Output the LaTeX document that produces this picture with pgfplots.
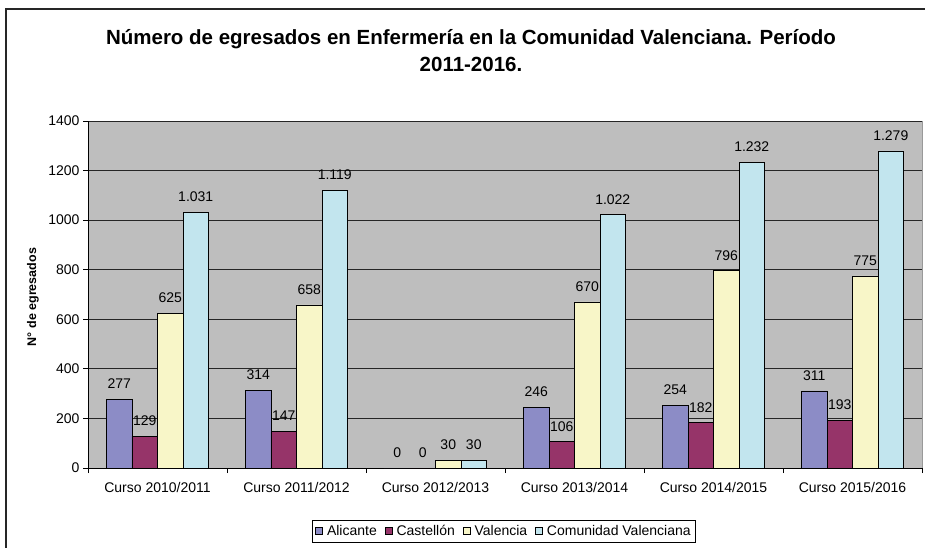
\documentclass[border=0pt]{standalone}
\usepackage{pgfplots}
\pgfplotsset{compat=1.18}
\usepackage{pgfplotstable}
\usepackage{fontspec}
\setmainfont{Liberation Sans}
\definecolor{plotgray}{HTML}{BEBEBE}
\definecolor{cAli}{HTML}{8C8CC6}
\definecolor{cCas}{HTML}{963469}
\definecolor{cVal}{HTML}{F8F6C8}
\definecolor{cCV}{HTML}{C2E5EE}
\pgfplotstableread{
x A C V CV
0 277 129 625 1031
1 314 147 658 1119
2 0 0 30 30
3 246 106 670 1022
4 254 182 796 1232
5 311 193 775 1279
}\data
\begin{document}
\begin{tikzpicture}[x=1pt,y=1pt]
\useasboundingbox (0,0) rectangle (925,547);
\fill[white] (0,0) rectangle (925,547);
\draw[line width=1.5pt, black!85] (6,-2) -- (6,538) -- (927,538);
\node[align=center, font=\fontsize{20.5}{26.5}\selectfont\bfseries] at (471,496.5) {Número de egresados en Enfermería en la Comunidad Valenciana. Período\\2011-2016.};
\node[rotate=90, font=\fontsize{12.5}{15}\selectfont\bfseries] at (33,250) {N° de egresados};
\begin{axis}[
  at={(88pt,79pt)}, anchor=south west,
  scale only axis, width=834pt, height=347pt,
  ybar=0pt, bar width=0.1835,
  xmin=-0.5, xmax=5.5, ymin=0, ymax=1400,
  ytick={0,200,...,1400},
  xtick={0,...,5},
  xticklabels={Curso 2010/2011,Curso 2011/2012,Curso 2012/2013,Curso 2013/2014,Curso 2014/2015,Curso 2015/2016},
  minor xtick={-0.5,0.5,...,5.5},
  major x tick style={draw=none},
  tick align=outside,
  major tick length=5pt, minor tick length=5pt,
  tick style={black, line width=0.8pt},
  axis x line*=bottom, axis y line*=left,
  axis line style={-, black, line width=0.9pt},
  axis background/.style={fill=plotgray, draw=gray!80, line width=0.8pt},
  ymajorgrids, major grid style={black!85, line width=0.8pt},
  /pgf/number format/assume math mode=true,
  /pgf/number format/1000 sep={},
  tick label style={font=\fontsize{14}{16}\selectfont},
  xticklabel style={yshift=-6pt},
  nodes near coords={\pgfmathprintnumber[1000 sep={.}]{\pgfplotspointmeta}},
  every node near coord/.append style={font=\fontsize{14}{16}\selectfont, anchor=center, yshift=15.5pt, black},
  legend style={at={(0.4988,-0.1816)}, anchor=center, legend columns=-1, draw=black, line width=0.8pt,
    font=\fontsize{14}{16}\selectfont, inner xsep=3pt, inner ysep=3pt,
    /tikz/every even column/.append style={column sep=6pt},
    /tikz/every odd column/.append style={column sep=2pt}},
  legend image code/.code={\draw[#1, draw=black, line width=0.7pt] (0pt,-3.5pt) rectangle (7pt,3.5pt);},
]
\addplot[fill=cAli, draw=black, line width=0.8pt] table[x=x,y=A] {\data};
\addplot[fill=cCas, draw=black, line width=0.8pt] table[x=x,y=C] {\data};
\addplot[fill=cVal, draw=black, line width=0.8pt] table[x=x,y=V] {\data};
\addplot[fill=cCV, draw=black, line width=0.8pt] table[x=x,y=CV] {\data};
\legend{Alicante,Castellón,Valencia,Comunidad Valenciana}
\end{axis}
\end{tikzpicture}
\end{document}
